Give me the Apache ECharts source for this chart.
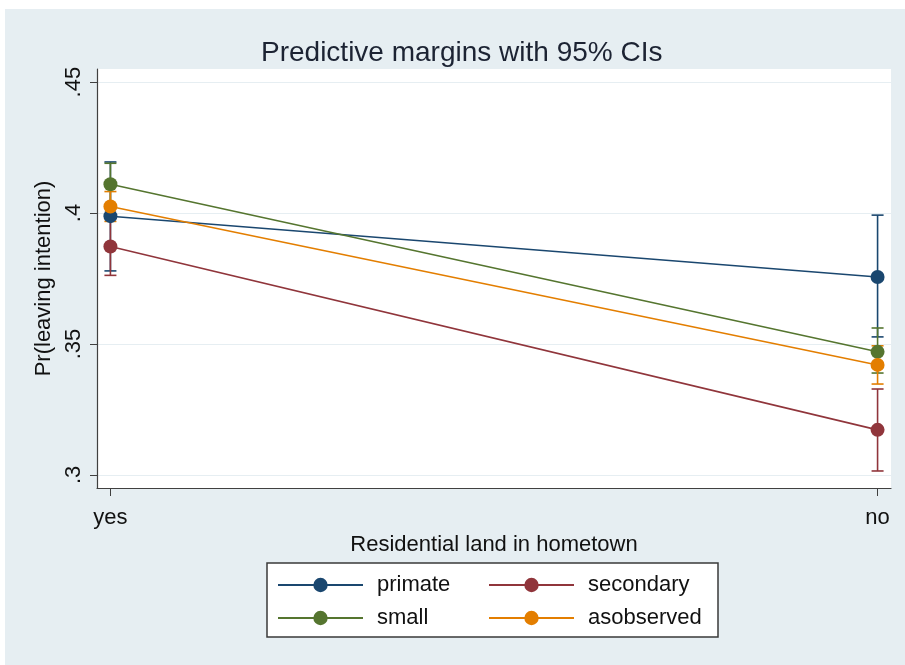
<!DOCTYPE html>
<html>
<head>
<meta charset="utf-8">
<script src="https://cdn.jsdelivr.net/npm/echarts@6/dist/echarts.min.js"></script>
<style>
  html, body { margin: 0; padding: 0; background: #fff; }
  #chart { width: 905px; height: 665px; }
</style>
</head>
<body>
<div id="chart"></div>
<script>
// values
var categories = ['yes', 'no']
var yTicks = [0.3, 0.35, 0.4, 0.45]
var yTickLabels = ['.3', '.35', '.4', '.45']

var primate = [0.3988, 0.3756]
var primateCI = [[0.3779, 0.4195], [0.3527, 0.3992]]
var secondary = [0.3872, 0.3172]
var secondaryCI = [[0.3762, 0.3982], [0.3015, 0.3328]]
var small = [0.4110, 0.3470]
var smallCI = [[0.4030, 0.4190], [0.3389, 0.3561]]
var asobserved = [0.4025, 0.3420]
var asobservedCI = [[0.3968, 0.4082], [0.3347, 0.3493]]

var font = "'Liberation Sans', Arial, sans-serif"
var groups = [
  { name: 'primate', color: '#1a476f', values: primate, ci: primateCI },
  { name: 'secondary', color: '#90353b', values: secondary, ci: secondaryCI },
  { name: 'small', color: '#55752f', values: small, ci: smallCI },
  { name: 'asobserved', color: '#e37e00', values: asobserved, ci: asobservedCI },
]

function capSeries(g) {
  return {
    type: 'custom',
    name: g.name + '_ci',
    z: 2,
    silent: true,
    data: g.ci.map(function (c, i) { return [i, c[0], c[1]] }),
    renderItem: function (params, api) {
      var lo = api.coord([api.value(0), api.value(1)])
      var hi = api.coord([api.value(0), api.value(2)])
      var w = 6
      var st = { stroke: g.color, lineWidth: 1.6 }
      return {
        type: 'group',
        children: [
          { type: 'line', shape: { x1: lo[0], y1: lo[1], x2: hi[0], y2: hi[1] }, style: st },
          { type: 'line', shape: { x1: lo[0] - w, y1: lo[1], x2: lo[0] + w, y2: lo[1] }, style: st },
          { type: 'line', shape: { x1: hi[0] - w, y1: hi[1], x2: hi[0] + w, y2: hi[1] }, style: st },
        ],
      }
    },
  }
}

function lineSeries(g, k) {
  return {
    type: 'line',
    name: g.name,
    z: 3 + k,
    data: g.values.map(function (v, i) { return [i, v] }),
    symbol: 'circle',
    symbolSize: 14,
    color: g.color,
    lineStyle: { width: 1.6, color: g.color },
    itemStyle: { color: g.color },
    emphasis: { disabled: true },
  }
}

var series = []
groups.forEach(function (g) { series.push(capSeries(g)) })
groups.forEach(function (g, k) { series.push(lineSeries(g, k)) })

var legendBase = {
  orient: 'vertical',
  top: 574,
  padding: 0,
  itemWidth: 85,
  itemHeight: 18,
  itemGap: 11,
  z: 10,
  selectedMode: false,
  textStyle: { fontFamily: font, fontSize: 22, color: '#111', padding: [0, 0, 0, 9] },
}

var myChart = echarts.init(document.getElementById('chart'))
var option = {
  backgroundColor: '#fff',
  animation: false,
  title: {
    text: 'Predictive margins with 95% CIs',
    left: 256,
    top: 34,
    textStyle: { fontFamily: font, fontSize: 28, fontWeight: 'normal', color: '#1c2333' },
  },
  graphic: [
    {
      type: 'rect', z: -100, silent: true,
      shape: { x: 5, y: 9, width: 900, height: 656 },
      style: { fill: '#e6eef2' },
    },
    {
      type: 'rect', z: 5, silent: true,
      shape: { x: 267, y: 563, width: 451, height: 74 },
      style: { fill: '#fff', stroke: '#3a3a3a', lineWidth: 1.5 },
    },
  ],
  legend: [
    Object.assign({}, legendBase, { left: 277, data: ['primate', 'small'] }),
    Object.assign({}, legendBase, { left: 488, data: ['secondary', 'asobserved'] }),
  ],
  grid: {
    left: 97, right: 14, top: 69, bottom: 177,
    show: true, backgroundColor: '#fff', borderWidth: 0,
  },
  xAxis: {
    type: 'value',
    min: -0.0175,
    max: 1.0175,
    name: 'Residential land in hometown',
    nameLocation: 'middle',
    nameGap: 40,
    nameTextStyle: { fontFamily: font, fontSize: 22, color: '#111' },
    axisLine: { show: true, onZero: false, lineStyle: { color: '#404040', width: 1.2 } },
    axisTick: { show: true, length: 8, customValues: [0, 1], lineStyle: { color: '#404040' } },
    axisLabel: {
      customValues: [0, 1],
      margin: 19,
      fontFamily: font, fontSize: 22, color: '#111',
      formatter: function (v) { return categories[Math.round(v)] },
    },
    splitLine: { show: false },
  },
  yAxis: {
    type: 'value',
    min: 0.295,
    max: 0.455,
    name: 'Pr(leaving intention)',
    nameLocation: 'middle',
    nameGap: 36,
    nameTextStyle: { fontFamily: font, fontSize: 22, color: '#111' },
    axisLine: { show: true, onZero: false, lineStyle: { color: '#404040', width: 1.2 } },
    axisTick: { show: true, length: 7, customValues: yTicks, lineStyle: { color: '#404040' } },
    axisLabel: {
      customValues: yTicks,
      rotate: 90,
      margin: 12,
      fontFamily: font, fontSize: 22, color: '#111',
      formatter: function (v) {
        var i = yTicks.findIndex(function (t) { return Math.abs(t - v) < 1e-6 })
        return i >= 0 ? yTickLabels[i] : ''
      },
    },
    splitLine: { show: true, lineStyle: { color: '#e6eef2', width: 1.2 } },
  },
  series: series,
}
myChart.setOption(option, true)
</script>
</body>
</html>
